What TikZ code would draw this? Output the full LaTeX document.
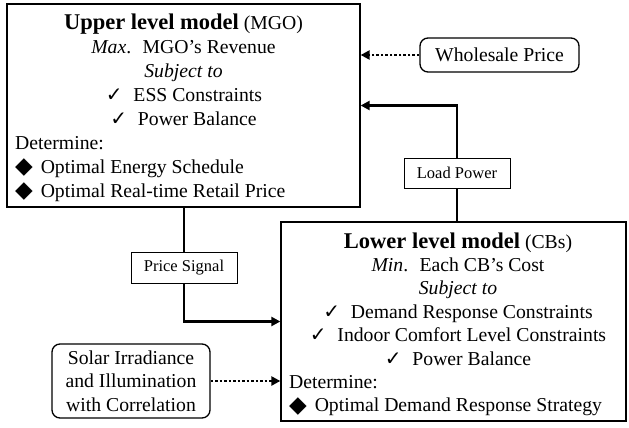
\documentclass[tikz,border=0pt]{standalone}
\usepackage{fontspec}
\setmainfont{Liberation Serif}
\newfontfamily\symfont{DejaVu Sans}
\usetikzlibrary{arrows.meta}
\newcommand{\chk}{{\symfont\fontsize{20}{20}\selectfont ✓}\hspace{0.55em}}
\newcommand{\dia}{\raisebox{-0.5pt}{\symfont\fontsize{23}{23}\selectfont ◆}\hspace{0.4em}}

\begin{document}
\begin{tikzpicture}[x=1pt,y=-1pt,
modelbox/.style={draw,line width=1.3pt,inner sep=0pt},
labelbox/.style={draw,line width=1pt,fill=white,font=\fontsize{16.5}{19}\selectfont,inner sep=0pt},
inputbox/.style={draw,line width=1.3pt,rounded corners=8pt,font=\fontsize{19.7}{23.5}\selectfont,align=center,inner sep=0pt},
txt/.style={font=\fontsize{19.7}{24}\selectfont,inner sep=0pt,anchor=base},
lefttxt/.style={txt,anchor=base west},
link/.style={line width=2.8pt},
arr/.style={-{Triangle[length=9pt,width=9pt]}},
dotlink/.style={line width=2.8pt,dash pattern=on 2.5pt off 2pt}]

\useasboundingbox (0,0) rectangle (629,428);

% upper level model
\node[modelbox,minimum width=353pt,minimum height=203pt] (upper) at (183.5,105.5) {};
\node[txt] (uptitle) at (183.5,30) {{\fontsize{22.5}{24}\selectfont\bfseries Upper level model} (MGO)};
\node[txt] (upgoal) at (183.5,53.9) {\textit{Max}. \ MGO’s Revenue};
\node[txt] (upsubj) at (183.5,77.8) {\textit{Subject to}};
\node[txt] (upcon1) at (184,101.7) {\chk ESS Constraints};
\node[txt] (upcon2) at (183.5,125.6) {\chk Power Balance};
\node[lefttxt] (updet) at (15,149.5) {Determine:};
\node[lefttxt] (upout1) at (15,173.4) {\dia Optimal Energy Schedule};
\node[lefttxt] (upout2) at (15,197.3) {\dia Optimal Real-time Retail Price};

% lower level model
\node[modelbox,minimum width=345pt,minimum height=199pt] (lower) at (453.5,321.5) {};
\node[txt] (lotitle) at (458,248) {{\fontsize{22.5}{24}\selectfont\bfseries Lower level model} (CBs)};
\node[txt] (logoal) at (458,271.4) {\textit{Min}. \ Each CB’s Cost};
\node[txt] (losubj) at (458,294.8) {\textit{Subject to}};
\node[txt] (locon1) at (458,318.2) {\chk Demand Response Constraints};
\node[txt] (locon2) at (458,341.6) {\chk Indoor Comfort Level Constraints};
\node[txt] (locon3) at (458,365) {\chk Power Balance};
\node[lefttxt] (lodet) at (289,388.4) {Determine:};
\node[lefttxt] (loout) at (289,411.8) {\dia Optimal Demand Response Strategy};

% inputs and signals
\node[inputbox,minimum width=159pt,minimum height=34pt] (wholesale) at (499.5,55) {Wholesale Price};
\node[inputbox,minimum width=158pt,minimum height=74pt] (solar) at (131,381) {Solar Irradiance\\and Illumination\\with Correlation};
\node[labelbox,minimum width=106pt,minimum height=30pt] (loadpower) at (457,173) {Load Power};
\node[labelbox,minimum width=106pt,minimum height=31pt] (pricesig) at (184,267.5) {Price Signal};

% connectors
\draw[dotlink,arr] (wholesale.west) -- (wholesale.west -| upper.east);
\draw[link] (lower.north -| loadpower) -- (loadpower.south);
\draw[link,arr] (loadpower.north) |- (upper.east);
\draw[link] (upper.south -| pricesig) -- (pricesig.north);
\draw[link,arr] (pricesig.south) |- (lower.west);
\draw[dotlink,arr] (solar.east) -- (solar.east -| lower.west);
\end{tikzpicture}
\end{document}
